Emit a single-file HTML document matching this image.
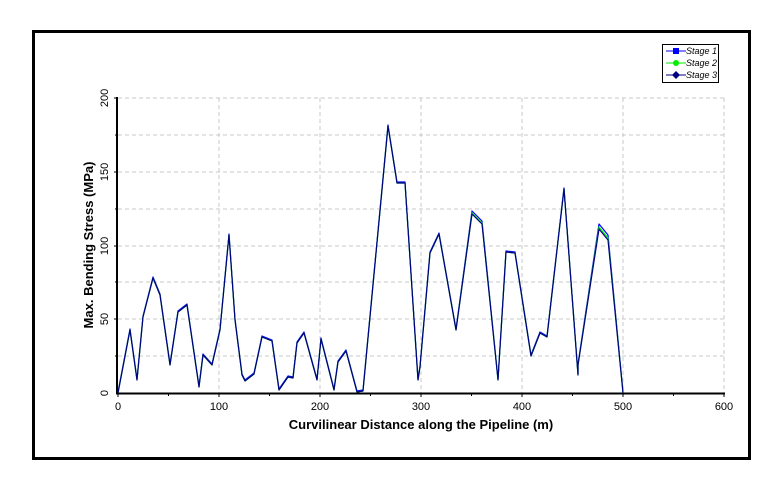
<!DOCTYPE html>
<html><head><meta charset="utf-8"><style>
body{margin:0;background:#fff;}
svg{display:block;font-family:"Liberation Sans",Arial,sans-serif;}
</style></head><body>
<svg width="779" height="488" viewBox="0 0 779 488" xmlns="http://www.w3.org/2000/svg">
<rect width="779" height="488" fill="#fff"/>
<rect x="33.5" y="31.5" width="716" height="427" fill="none" stroke="#000" stroke-width="3"/>
<g stroke="#c8c8c8" stroke-dasharray="4,3" stroke-width="1">
<line x1="219" y1="98" x2="219" y2="393"/><line x1="320" y1="98" x2="320" y2="393"/>
<line x1="421" y1="98" x2="421" y2="393"/><line x1="522" y1="98" x2="522" y2="393"/>
<line x1="623" y1="98" x2="623" y2="393"/><line x1="724" y1="98" x2="724" y2="393"/>
<line x1="118" y1="98" x2="724" y2="98"/><line x1="118" y1="135" x2="724" y2="135"/>
<line x1="118" y1="172" x2="724" y2="172"/><line x1="118" y1="209" x2="724" y2="209"/>
<line x1="118" y1="246" x2="724" y2="246"/><line x1="118" y1="282" x2="724" y2="282"/>
<line x1="118" y1="319" x2="724" y2="319"/><line x1="118" y1="356" x2="724" y2="356"/>
</g>
<g stroke="#000" stroke-width="1">
<line x1="114" y1="98" x2="118" y2="98"/><line x1="114" y1="172" x2="118" y2="172"/>
<line x1="114" y1="246" x2="118" y2="246"/><line x1="114" y1="319" x2="118" y2="319"/>
<line x1="115" y1="135" x2="118" y2="135"/><line x1="115" y1="209" x2="118" y2="209"/>
<line x1="115" y1="282" x2="118" y2="282"/><line x1="115" y1="356" x2="118" y2="356"/>
<line x1="118" y1="393" x2="118" y2="397"/><line x1="219" y1="393" x2="219" y2="397"/>
<line x1="320" y1="393" x2="320" y2="397"/><line x1="421" y1="393" x2="421" y2="397"/>
<line x1="522" y1="393" x2="522" y2="397"/><line x1="623" y1="393" x2="623" y2="397"/>
<line x1="724" y1="393" x2="724" y2="397"/>
<line x1="168.5" y1="393" x2="168.5" y2="396"/><line x1="269.5" y1="393" x2="269.5" y2="396"/>
<line x1="370.5" y1="393" x2="370.5" y2="396"/><line x1="471.5" y1="393" x2="471.5" y2="396"/>
<line x1="572.5" y1="393" x2="572.5" y2="396"/><line x1="673.5" y1="393" x2="673.5" y2="396"/>
</g>
<line x1="117" y1="97" x2="117" y2="394" stroke="#000" stroke-width="2"/>
<line x1="116" y1="393.5" x2="725" y2="393.5" stroke="#000" stroke-width="2"/>
<g font-size="11" fill="#000" text-anchor="middle">
<text transform="translate(108,98) rotate(-90)">200</text>
<text transform="translate(108,172) rotate(-90)">150</text>
<text transform="translate(108,246) rotate(-90)">100</text>
<text transform="translate(108,319) rotate(-90)">50</text>
<text transform="translate(108,393) rotate(-90)">0</text>
</g>
<g font-size="11" fill="#000" text-anchor="middle">
<text x="118" y="410">0</text><text x="219" y="410">100</text><text x="320" y="410">200</text>
<text x="421" y="410">300</text><text x="522" y="410">400</text><text x="623" y="410">500</text><text x="724" y="410">600</text>
</g>
<text x="421" y="429" font-size="13" font-weight="bold" text-anchor="middle">Curvilinear Distance along the Pipeline (m)</text>
<text transform="translate(93,245) rotate(-90)" font-size="13" font-weight="bold" text-anchor="middle">Max. Bending Stress (MPa)</text>
<g fill="none" stroke-width="1.2" stroke-linejoin="round">
<polyline transform="translate(0,-1)" stroke="#0000ff" points="118,393 130,330 137,380 143,317 153,278 160,295 170,365 178,312 187,305 199,387 203,355 212,365 220,330 229,235 235,320 242,375 245,381 254,374 262,337 272,341 279,390 288,377 293,378 297,343 304,333 317,380 321,339 334,390 338,362 346,351 357,392 363,391 388,126 397,183 405,183 418,380 420,367 430,253 439,234 456,330 472,212 482,222 498,380 506,252 515,253 531,356 540,333 547,337 564,189 578,375 578,365 599,225 608,236 623,393"/>
<polyline stroke="#00ee00" points="118,393 130,330 137,380 143,317 153,278 160,295 170,365 178,312 187,305 199,387 203,355 212,365 220,330 229,235 235,320 242,375 245,381 254,374 262,337 272,341 279,390 288,377 293,378 297,343 304,333 317,380 321,339 334,390 338,362 346,351 357,392 363,391 388,126 397,183 405,183 418,380 420,367 430,253 439,234 456,330 472,213 482,223 498,380 506,252 515,253 531,356 540,333 547,337 564,189 578,375 578,365 599,227 608,238 623,393"/>
<polyline stroke="#000080" points="118,393 130,330 137,380 143,317 153,278 160,295 170,365 178,312 187,305 199,387 203,355 212,365 220,330 229,235 235,320 242,375 245,381 254,374 262,337 272,341 279,390 288,377 293,378 297,343 304,333 317,380 321,339 334,390 338,362 346,351 357,392 363,391 388,126 397,183 405,183 418,380 420,367 430,253 439,234 456,330 472,214 482,224 498,380 506,252 515,253 531,356 540,333 547,337 564,189 578,375 578,365 599,229 608,240 623,393"/>
</g>
<rect x="662.5" y="44.5" width="56" height="38" fill="#fff" stroke="#000" stroke-width="1"/>
<g font-size="9" font-style="italic">
<line x1="666" y1="51" x2="686" y2="51" stroke="#0000ff"/><rect x="673" y="48" width="6" height="6" fill="#0000ff"/>
<text x="686" y="54">Stage 1</text>
<line x1="666" y1="63" x2="686" y2="63" stroke="#00ee00"/><circle cx="676" cy="63" r="3" fill="#00ee00"/>
<text x="686" y="66">Stage 2</text>
<line x1="666" y1="75" x2="686" y2="75" stroke="#000080"/><path d="M676,71 L680,75 L676,79 L672,75Z" fill="#000080"/>
<text x="686" y="78">Stage 3</text>
</g>
</svg>
</body></html>
